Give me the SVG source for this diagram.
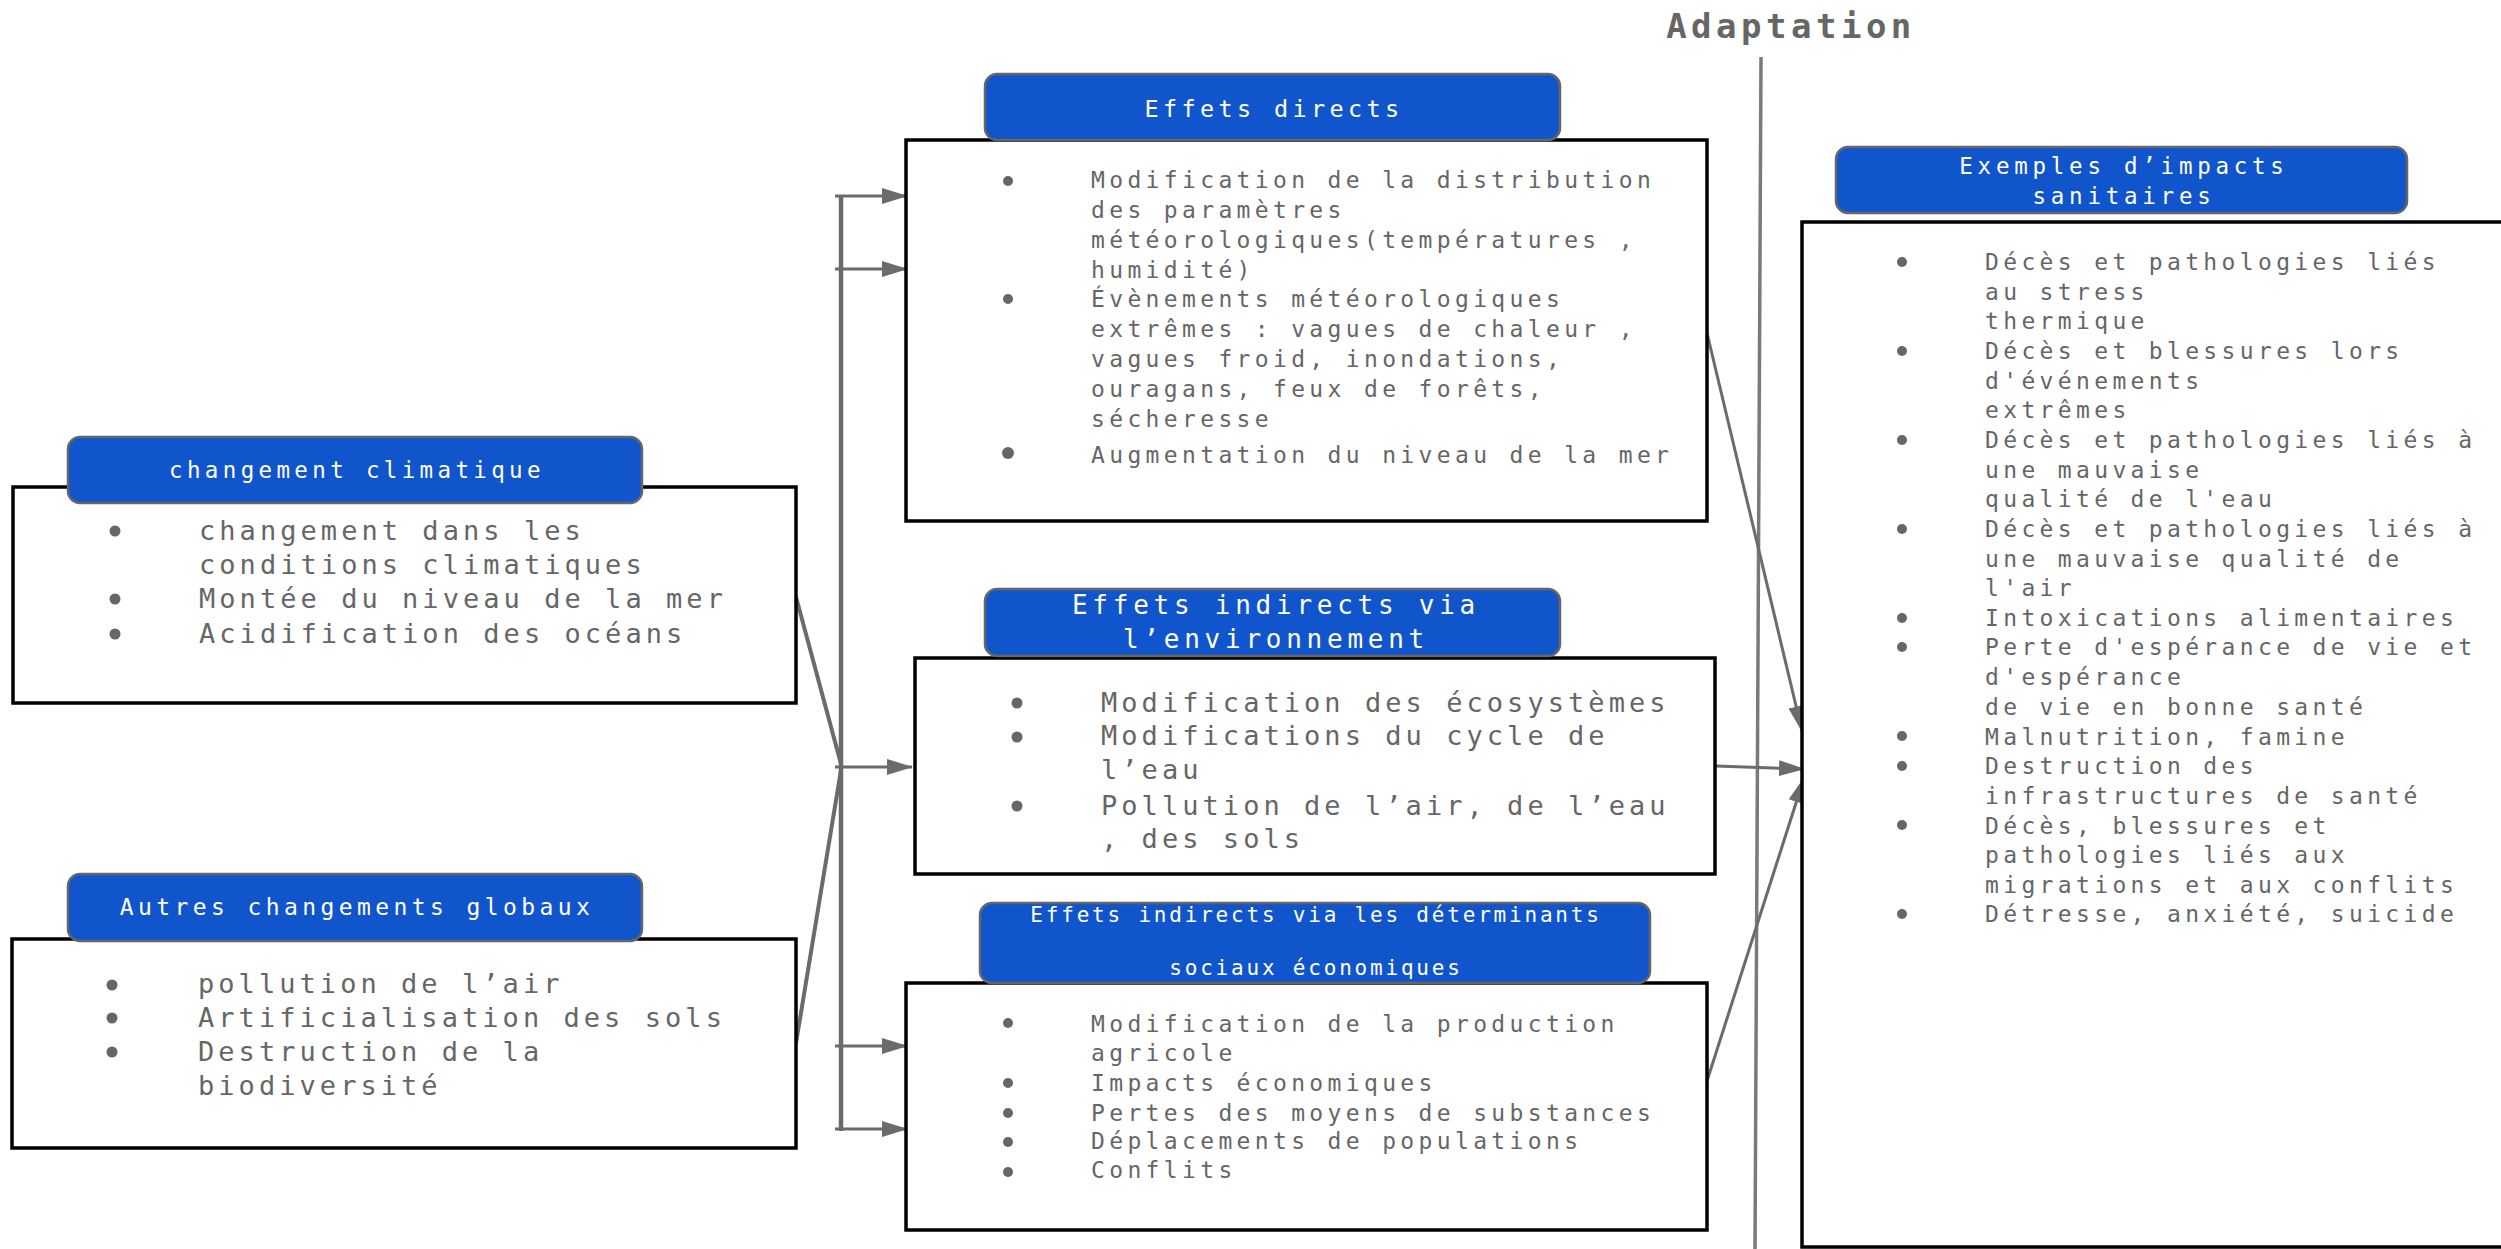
<svg xmlns="http://www.w3.org/2000/svg" width="2501" height="1249" viewBox="0 0 2501 1249">
  <style>
    .body { fill: #ffffff; stroke: #000000; stroke-width: 3.5; }
    .hdr { fill: #1155cc; stroke: #666666; stroke-width: 2.5; }
    .ht { font-family: "DejaVu Sans Mono", "Liberation Mono", monospace; fill: #ffffff; text-anchor: middle; }
    .bt { font-family: "DejaVu Sans Mono", "Liberation Mono", monospace; fill: #666666; }
    .big { font-size: 27px; letter-spacing: 4.05px; }
    .small { font-size: 23px; letter-spacing: 4.35px; }
    .dot { fill: #666666; }
    .bus { stroke: #6b6b6b; stroke-width: 4.5; fill: none; }
    .link { stroke: #6b6b6b; stroke-width: 4; fill: none; }
    .arrow { stroke: #6b6b6b; stroke-width: 3; fill: none; marker-end: url(#head); }
    .title { font-family: "DejaVu Sans Mono", "Liberation Mono", monospace; font-weight: bold; font-size: 34px; letter-spacing: 4.5px; fill: #666666; text-anchor: middle; }
  </style>
  <defs>
    <marker id="head" markerUnits="userSpaceOnUse" markerWidth="26" markerHeight="18" viewBox="0 0 26 18" refX="25" refY="9" orient="auto">
      <path d="M0,1 L26,9 L0,17 z" fill="#6b6b6b"/>
    </marker>
  </defs>

  <rect width="2501" height="1249" fill="#ffffff"/>

  <!-- Adaptation axis -->
  <g id="adaptation">
    <text class="title" x="1791" y="38">Adaptation</text>
    <line x1="1761" y1="57" x2="1755" y2="1249" stroke="#7a7a7a" stroke-width="3.5"/>
  </g>

  <!-- Connectors -->
  <g id="connectors">
    <line class="bus" x1="841" y1="196" x2="841" y2="1131"/>
    <line class="link" x1="796" y1="597" x2="841" y2="764"/>
    <line class="link" x1="796" y1="1043" x2="841" y2="770"/>
    <line class="arrow" x1="835" y1="196" x2="907" y2="196"/>
    <line class="arrow" x1="835" y1="269" x2="907" y2="269"/>
    <line class="arrow" x1="835" y1="767" x2="912" y2="767"/>
    <line class="arrow" x1="835" y1="1046" x2="907" y2="1046"/>
    <line class="arrow" x1="835" y1="1129" x2="907" y2="1129"/>
    <line class="arrow" x1="1707" y1="333" x2="1802" y2="731"/>
    <line class="arrow" x1="1716" y1="766" x2="1804" y2="769"/>
    <line class="arrow" x1="1707" y1="1081" x2="1804" y2="778"/>
  </g>

  <!-- changement climatique -->
  <g id="changement-climatique">
    <rect class="body" x="13" y="487" width="783" height="216"/>
    <rect class="hdr" x="68" y="437" width="574" height="66" rx="12"/>
    <text class="ht" x="357" y="478" font-size="22.5" letter-spacing="4.35">changement climatique</text>
    <circle class="dot" cx="115" cy="531" r="5.5"/>
    <circle class="dot" cx="115" cy="599" r="5.5"/>
    <circle class="dot" cx="115" cy="634" r="5.5"/>
    <text class="bt big" x="199" y="540">changement dans les</text>
    <text class="bt big" x="199" y="574">conditions climatiques</text>
    <text class="bt big" x="199" y="608">Montée du niveau de la mer</text>
    <text class="bt big" x="199" y="643">Acidification des océans</text>
  </g>

  <!-- Autres changements globaux -->
  <g id="autres-changements">
    <rect class="body" x="12" y="939" width="784" height="209"/>
    <rect class="hdr" x="68" y="874" width="574" height="67" rx="12"/>
    <text class="ht" x="357" y="915" font-size="23" letter-spacing="4.4">Autres changements globaux</text>
    <circle class="dot" cx="112" cy="985" r="5.5"/>
    <circle class="dot" cx="112" cy="1018" r="5.5"/>
    <circle class="dot" cx="112" cy="1052" r="5.5"/>
    <text class="bt big" x="198" y="993">pollution de l’air</text>
    <text class="bt big" x="198" y="1027">Artificialisation des sols</text>
    <text class="bt big" x="198" y="1061">Destruction de la</text>
    <text class="bt big" x="198" y="1095">biodiversité</text>
  </g>

  <!-- Effets directs -->
  <g id="effets-directs">
    <rect class="body" x="906" y="140" width="801" height="381"/>
    <rect class="hdr" x="985" y="74" width="575" height="66" rx="12"/>
    <text class="ht" x="1274" y="117" font-size="23.5" letter-spacing="4.35">Effets directs</text>
    <circle class="dot" cx="1008" cy="181" r="5"/>
    <circle class="dot" cx="1008" cy="299" r="5"/>
    <circle class="dot" cx="1008" cy="453" r="6"/>
    <text class="bt small" x="1091" y="188">Modification de la distribution</text>
    <text class="bt small" x="1091" y="218">des paramètres</text>
    <text class="bt small" x="1091" y="248">météorologiques(températures ,</text>
    <text class="bt small" x="1091" y="278">humidité)</text>
    <text class="bt small" x="1091" y="307">Évènements météorologiques</text>
    <text class="bt small" x="1091" y="337">extrêmes : vagues de chaleur ,</text>
    <text class="bt small" x="1091" y="367">vagues froid, inondations,</text>
    <text class="bt small" x="1091" y="397">ouragans, feux de forêts,</text>
    <text class="bt small" x="1091" y="427">sécheresse</text>
    <text class="bt small" x="1091" y="463">Augmentation du niveau de la mer</text>
  </g>

  <!-- Effets indirects via l'environnement -->
  <g id="effets-environnement">
    <rect class="body" x="915" y="658" width="800" height="216"/>
    <rect class="hdr" x="985" y="589" width="575" height="67" rx="12"/>
    <text class="ht" x="1276" y="614" font-size="26" letter-spacing="4.75">Effets indirects via</text>
    <text class="ht" x="1276" y="648" font-size="26" letter-spacing="4.75">l’environnement</text>
    <circle class="dot" cx="1017" cy="703" r="5.5"/>
    <circle class="dot" cx="1017" cy="737" r="5.5"/>
    <circle class="dot" cx="1017" cy="806" r="5.5"/>
    <text class="bt big" x="1101" y="712">Modification des écosystèmes</text>
    <text class="bt big" x="1101" y="745">Modifications du cycle de</text>
    <text class="bt big" x="1101" y="779">l’eau</text>
    <text class="bt big" x="1101" y="815">Pollution de l’air, de l’eau</text>
    <text class="bt big" x="1101" y="848">, des sols</text>
  </g>

  <!-- Effets indirects via les déterminants sociaux économiques -->
  <g id="effets-socio-economiques">
    <rect class="body" x="906" y="983" width="801" height="247"/>
    <rect class="hdr" x="980" y="903" width="670" height="80" rx="12"/>
    <text class="ht" x="1316" y="922" font-size="21" letter-spacing="2.8">Effets indirects via les déterminants</text>
    <text class="ht" x="1316" y="975" font-size="21" letter-spacing="2.8">sociaux économiques</text>
    <circle class="dot" cx="1008" cy="1023" r="5"/>
    <circle class="dot" cx="1008" cy="1083" r="5"/>
    <circle class="dot" cx="1008" cy="1113" r="5"/>
    <circle class="dot" cx="1008" cy="1142" r="5"/>
    <circle class="dot" cx="1008" cy="1172" r="5"/>
    <text class="bt small" x="1091" y="1032">Modification de la production</text>
    <text class="bt small" x="1091" y="1061">agricole</text>
    <text class="bt small" x="1091" y="1091">Impacts économiques</text>
    <text class="bt small" x="1091" y="1121">Pertes des moyens de substances</text>
    <text class="bt small" x="1091" y="1149">Déplacements de populations</text>
    <text class="bt small" x="1091" y="1178">Conflits</text>
  </g>

  <!-- Exemples d'impacts sanitaires -->
  <g id="exemples-impacts">
    <rect class="body" x="1802" y="222" width="760" height="1025"/>
    <rect class="hdr" x="1836" y="147" width="571" height="66" rx="12"/>
    <text class="ht" x="2124" y="174" font-size="22.5" letter-spacing="4.75">Exemples d’impacts</text>
    <text class="ht" x="2124" y="204" font-size="22.5" letter-spacing="4.75">sanitaires</text>
    <circle class="dot" cx="1902" cy="262" r="5"/>
    <circle class="dot" cx="1902" cy="351" r="5"/>
    <circle class="dot" cx="1902" cy="440" r="5"/>
    <circle class="dot" cx="1902" cy="529" r="5"/>
    <circle class="dot" cx="1902" cy="618" r="5"/>
    <circle class="dot" cx="1902" cy="647" r="5"/>
    <circle class="dot" cx="1902" cy="736" r="5"/>
    <circle class="dot" cx="1902" cy="766" r="5"/>
    <circle class="dot" cx="1902" cy="825" r="5"/>
    <circle class="dot" cx="1902" cy="914" r="5"/>
    <text class="bt small" x="1985" y="270">Décès et pathologies liés</text>
    <text class="bt small" x="1985" y="300">au stress</text>
    <text class="bt small" x="1985" y="329">thermique</text>
    <text class="bt small" x="1985" y="359">Décès et blessures lors</text>
    <text class="bt small" x="1985" y="389">d'événements</text>
    <text class="bt small" x="1985" y="418">extrêmes</text>
    <text class="bt small" x="1985" y="448">Décès et pathologies liés à</text>
    <text class="bt small" x="1985" y="478">une mauvaise</text>
    <text class="bt small" x="1985" y="507">qualité de l'eau</text>
    <text class="bt small" x="1985" y="537">Décès et pathologies liés à</text>
    <text class="bt small" x="1985" y="567">une mauvaise qualité de</text>
    <text class="bt small" x="1985" y="596">l'air</text>
    <text class="bt small" x="1985" y="626">Intoxications alimentaires</text>
    <text class="bt small" x="1985" y="655">Perte d'espérance de vie et</text>
    <text class="bt small" x="1985" y="685">d'espérance</text>
    <text class="bt small" x="1985" y="715">de vie en bonne santé</text>
    <text class="bt small" x="1985" y="745">Malnutrition, famine</text>
    <text class="bt small" x="1985" y="774">Destruction des</text>
    <text class="bt small" x="1985" y="804">infrastructures de santé</text>
    <text class="bt small" x="1985" y="834">Décès, blessures et</text>
    <text class="bt small" x="1985" y="863">pathologies liés aux</text>
    <text class="bt small" x="1985" y="893">migrations et aux conflits</text>
    <text class="bt small" x="1985" y="922">Détresse, anxiété, suicide</text>
  </g>
</svg>
